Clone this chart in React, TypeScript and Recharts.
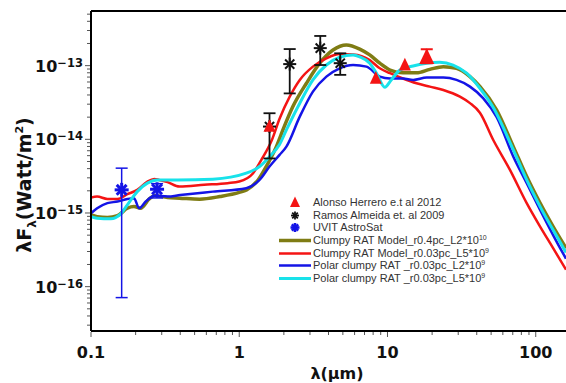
import { ComposedChart, Line, Scatter, XAxis, YAxis, ErrorBar, ReferenceLine } from "recharts";

// model SEDs: [lambda (um), lambda*F_lambda (W/m^2)]
const clumpyR04L2e10: [number, number][] = [
  [0.1, 9.4e-16], [0.11, 8.9e-16], [0.129, 8.7e-16], [0.151, 9.2e-16], [0.176, 1.16e-15],
  [0.195, 1.22e-15], [0.216, 1.16e-15], [0.247, 1.55e-15], [0.267, 1.72e-15], [0.328, 1.62e-15],
  [0.395, 1.59e-15], [0.54, 1.54e-15], [0.74, 1.67e-15], [1.0, 1.9e-15], [1.12, 2.06e-15],
  [1.34, 2.81e-15], [1.52, 4.27e-15], [1.78, 7.96e-15], [1.97, 1.34e-14], [2.3, 2.78e-14],
  [2.84, 5.77e-14], [3.49, 1.08e-13], [4.29, 1.63e-13], [5.28, 1.91e-13], [6.5, 1.68e-13],
  [7.59, 1.4e-13], [8.87, 1.08e-13], [10.4, 8.7e-14], [12.7, 8.0e-14], [15.7, 8.0e-14],
  [19.3, 8.9e-14], [23.8, 9.7e-14], [29.2, 9.2e-14], [36, 7.1e-14], [42.1, 5.19e-14],
  [54.5, 2.5e-14], [70.6, 7.96e-15], [86.9, 3.12e-15], [107, 1.36e-15], [131, 6.53e-16],
  [160, 3.33e-16],
];

const clumpyR003L5e9: [number, number][] = [
  [0.1, 1.62e-15], [0.11, 1.67e-15], [0.129, 1.55e-15], [0.151, 1.55e-15], [0.176, 1.8e-15],
  [0.205, 2.06e-15], [0.24, 2.67e-15], [0.267, 2.9e-15], [0.288, 2.81e-15], [0.328, 2.62e-15],
  [0.395, 2.28e-15], [0.58, 2.41e-15], [0.834, 2.54e-15], [1.0, 2.67e-15], [1.24, 3.47e-15],
  [1.41, 5.26e-15], [1.66, 9.8e-15], [1.87, 1.9e-14], [2.19, 3.79e-14], [2.56, 6.4e-14],
  [3.14, 9.7e-14], [3.87, 1.26e-13], [4.76, 1.44e-13], [5.86, 1.42e-13], [7.59, 1.19e-13],
  [8.87, 9.2e-14], [10.4, 7.9e-14], [12.7, 6.7e-14], [15.7, 5.77e-14], [19.3, 5.19e-14],
  [23.8, 4.68e-14], [30.8, 3.79e-14], [36, 3.1e-14], [42, 2.3e-14], [51.7, 9.8e-15],
  [67, 3.85e-15], [86.9, 1.36e-15], [107, 6.53e-16], [131, 3.33e-16], [160, 1.7e-16],
];

const polarR003L2e9: [number, number][] = [
  [0.1, 9.93e-16], [0.11, 1.16e-15], [0.129, 1.36e-15], [0.151, 1.43e-15], [0.176, 1.55e-15],
  [0.195, 1.59e-15], [0.211, 1.16e-15], [0.234, 1.43e-15], [0.267, 1.72e-15], [0.328, 1.67e-15],
  [0.4, 1.75e-15], [0.663, 1.95e-15], [1.115, 2.17e-15], [1.37, 2.81e-15], [1.6, 4.27e-15],
  [1.87, 6.14e-15], [2.08, 7.96e-15], [2.56, 2.03e-14], [3.14, 4.44e-14], [3.87, 7.1e-14],
  [4.76, 9.2e-14], [5.86, 1.02e-13], [7.21, 9.7e-14], [8.87, 7.1e-14], [10.4, 6.7e-14],
  [12.7, 6.7e-14], [14.9, 6.4e-14], [18.4, 6.9e-14], [23.8, 6.9e-14], [29.2, 6.4e-14],
  [36, 5.19e-14], [44.3, 3.6e-14], [54.5, 2.0e-14], [70.6, 5.82e-15], [86.9, 2.54e-15],
  [107, 1.1e-15], [146, 3.33e-16], [160, 2.4e-16],
];

const polarR003L5e9: [number, number][] = [
  [0.1, 8.93e-16], [0.11, 8.5e-16], [0.136, 8.32e-16], [0.158, 9.64e-16], [0.176, 1.29e-15],
  [0.205, 1.95e-15], [0.24, 2.54e-15], [0.281, 2.81e-15], [0.383, 2.81e-15], [0.663, 2.88e-15],
  [1.115, 3.47e-15], [1.37, 4.27e-15], [1.6, 5.82e-15], [1.87, 8.5e-15], [2.08, 1.34e-14],
  [2.56, 3.09e-14], [3.14, 6.4e-14], [3.87, 1.02e-13], [4.76, 1.3e-13], [5.86, 1.4e-13],
  [6.5, 1.32e-13], [7.59, 1.08e-13], [8.43, 7.9e-14], [9.59, 5.09e-14], [10.6, 6.4e-14],
  [12.1, 8.7e-14], [14.9, 9.9e-14], [18.4, 1.08e-13], [22.5, 1.11e-13], [27.7, 1.02e-13],
  [34.2, 7.9e-14], [42.1, 4.9e-14], [51.7, 2.7e-14], [70.6, 7.18e-15], [86.9, 2.81e-15],
  [107, 1.22e-15], [154, 3.33e-16], [160, 2.9e-16],
];

// photometry
const alonsoLam = [1.6, 8.34, 13.1, 18.4];
const alonsoFlux = [1.5e-14, 6.75e-14, 1.02e-13, 1.3e-13];
const alonsoLow = [null, null, null, 1.08e-13];
const alonsoHigh = [null, null, null, 1.67e-13];

const ramosLam = [1.6, 2.19, 3.52, 4.8];
const ramosFlux = [1.49e-14, 1.05e-13, 1.73e-13, 1.08e-13];
const ramosLow = [5.5e-15, 4.2e-14, 1.02e-13, 7.5e-14];
const ramosHigh = [2.26e-14, 1.68e-13, 2.53e-13, 1.47e-13];

const uvitLam = [0.161, 0.279];
const uvitFlux = [2.06e-15, 2.1e-15];
const uvitLow = [7.1e-17, 1.6e-15];
const uvitHigh = [4.06e-15, 2.5e-15];

const X_DOMAIN: [number, number] = [0.1, 160];
const Y_DOMAIN: [number, number] = [2.5e-17, 5.52e-13];

const models = [
  { name: "Clumpy RAT Model_r0.4pc_L2*10", exp: "10", data: clumpyR04L2e10, color: "#7f7c14", width: 3.5 },
  { name: "Clumpy RAT Model_r0.03pc_L5*10", exp: "9", data: clumpyR003L5e9, color: "#f41414", width: 2.5 },
  { name: "Polar clumpy RAT _r0.03pc_L2*10", exp: "9", data: polarR003L2e9, color: "#1414e6", width: 2.5 },
  { name: "Polar clumpy RAT _r0.03pc_L5*10", exp: "9", data: polarR003L5e9, color: "#18e2ea", width: 3 },
];

const pts = (s: [number, number][]) => s.map(([x, y]) => ({ x, y }));
const withErr = (lam: number[], flux: number[], lo: (number | null)[], hi: (number | null)[]) =>
  lam.map((x, i) => ({
    x,
    y: flux[i],
    err: lo[i] == null ? null : [flux[i] - (lo[i] as number), (hi[i] as number) - flux[i]],
  }));

const isMajor = (v: number) => Math.abs(Math.log10(v) - Math.round(Math.log10(v))) < 1e-9;

function logTicks([lo, hi]: [number, number]) {
  const out: number[] = [];
  for (let d = Math.floor(Math.log10(lo)); d <= Math.ceil(Math.log10(hi)); d++) {
    for (let m = 1; m <= 9; m++) {
      const v = m * Math.pow(10, d);
      if (v >= lo * 0.999 && v <= hi * 1.001) out.push(v);
    }
  }
  return out;
}

const BOLD = "'DejaVu Sans', sans-serif";

const XTick = (props: any) => {
  const { x, y, payload } = props;
  const major = isMajor(payload.value);
  return (
    <g>
      <line x1={x} x2={x} y1={y + 1} y2={y + (major ? 6 : 4)} stroke="#555" />
      {major && (
        <text x={x} y={y + 27} textAnchor="middle" fontFamily={BOLD} fontWeight="bold" fontSize={16} fill="#111">
          {String(payload.value)}
        </text>
      )}
    </g>
  );
};

const YTick = (props: any) => {
  const { x, y, payload } = props;
  const major = isMajor(payload.value);
  const p = Math.round(Math.log10(payload.value));
  return (
    <g>
      <line x1={x - 1} x2={x - (major ? 6 : 4)} y1={y} y2={y} stroke="#555" />
      {major && (
        <text x={x - 8} y={y + 6} textAnchor="end" fontFamily={BOLD} fontWeight="bold" fontSize={16} fill="#111">
          10<tspan dy={-5} fontSize={11.5}>{"\u2212" + Math.abs(p)}</tspan>
        </text>
      )}
    </g>
  );
};

function Asterisk({ cx, cy, r, color, w }: { cx: number; cy: number; r: number; color: string; w: number }) {
  return (
    <g stroke={color} strokeWidth={w} strokeLinecap="butt">
      {[0, 45, 90, 135].map((a) => {
        const dx = r * Math.cos((a * Math.PI) / 180);
        const dy = r * Math.sin((a * Math.PI) / 180);
        return <line key={a} x1={cx - dx} y1={cy - dy} x2={cx + dx} y2={cy + dy} />;
      })}
    </g>
  );
}

function Triangle({ cx, cy, s, color }: { cx: number; cy: number; s: number; color: string }) {
  return <path d={`M${cx},${cy - s * 0.6}L${cx + s / 2},${cy + s * 0.45}L${cx - s / 2},${cy + s * 0.45}Z`} fill={color} />;
}

const legendRows: { label: string; exp?: string; marker: JSX.Element }[] = [
  { label: "Alonso Herrero e.t al 2012", marker: <Triangle cx={16} cy={6.5} s={10} color="#f41414" /> },
  { label: "Ramos Almeida et. al 2009", marker: <Asterisk cx={16} cy={6.5} r={4} color="#111" w={1.8} /> },
  { label: "UVIT AstroSat", marker: <Asterisk cx={16} cy={6.5} r={4.5} color="#1414e6" w={2.6} /> },
  ...models.map((m) => ({
    label: m.name,
    exp: m.exp,
    marker: <line x1={0} x2={32} y1={6.5} y2={6.5} stroke={m.color} strokeWidth={m.width} />,
  })),
];

export default function App() {
  const alonso = withErr(alonsoLam, alonsoFlux, alonsoLow, alonsoHigh);
  const ramos = withErr(ramosLam, ramosFlux, ramosLow, ramosHigh);
  const uvit = withErr(uvitLam, uvitFlux, uvitLow, uvitHigh);

  return (
    <div style={{ position: "relative", width: 566, height: 383, background: "#fff", overflow: "hidden" }}>
      <style>{"body{margin:0}"}</style>
      <ComposedChart width={566} height={383} margin={{ top: 11, right: 0, bottom: 0, left: 0 }}>
        <XAxis
          dataKey="x"
          type="number"
          scale="log"
          domain={X_DOMAIN}
          allowDataOverflow
          ticks={logTicks(X_DOMAIN)}
          interval={0}
          tick={<XTick />}
          tickLine={false}
          tickSize={0}
          tickMargin={0}
          height={52}
          axisLine={{ stroke: "#000", strokeWidth: 2 }}
        />
        <YAxis
          dataKey="y"
          type="number"
          scale="log"
          domain={Y_DOMAIN}
          allowDataOverflow
          ticks={logTicks(Y_DOMAIN)}
          interval={0}
          tick={<YTick />}
          tickLine={false}
          tickSize={0}
          tickMargin={0}
          width={91}
          axisLine={{ stroke: "#000", strokeWidth: 2 }}
        />
        <ReferenceLine y={Y_DOMAIN[1]} stroke="#000" strokeWidth={2} ifOverflow="visible" />
        {models.map((m) => (
          <Line
            key={m.name}
            data={pts(m.data)}
            dataKey="y"
            type="monotone"
            stroke={m.color}
            strokeWidth={m.width}
            dot={false}
            isAnimationActive={false}
          />
        ))}
        <Scatter
          data={ramos}
          dataKey="y"
          isAnimationActive={false}
          shape={(p: any) => <Asterisk cx={p.cx} cy={p.cy} r={6.5} color="#111" w={2} />}
        >
          <ErrorBar dataKey="err" direction="y" width={6} stroke="#111" strokeWidth={1.8} isAnimationActive={false} />
        </Scatter>
        <Scatter
          data={alonso}
          dataKey="y"
          isAnimationActive={false}
          shape={(p: any) => <Triangle cx={p.cx} cy={p.cy} s={p.payload.err ? 15 : 12} color="#f41414" />}
        >
          <ErrorBar dataKey="err" direction="y" width={6} stroke="#f41414" strokeWidth={2} isAnimationActive={false} />
        </Scatter>
        <Scatter
          data={uvit}
          dataKey="y"
          isAnimationActive={false}
          shape={(p: any) => <Asterisk cx={p.cx} cy={p.cy} r={7} color="#1414e6" w={3} />}
        >
          <ErrorBar dataKey="err" direction="y" width={6} stroke="#1414e6" strokeWidth={1.5} isAnimationActive={false} />
        </Scatter>
      </ComposedChart>

      <svg width={566} height={383} style={{ position: "absolute", left: 0, top: 0, pointerEvents: "none" }}>
        <text transform="translate(31,185) rotate(-90)" textAnchor="middle" fontFamily={BOLD} fontWeight="bold" fontSize={19} fill="#111">
          λF<tspan fontSize={12} dy={5}>λ</tspan>
          <tspan dy={-5}>(Watt/m</tspan>
          <tspan fontSize={11} dy={-8}>2</tspan>
          <tspan dy={8}>)</tspan>
        </text>
        <text x={337} y={379} textAnchor="middle" fontFamily={BOLD} fontWeight="bold" fontSize={16} fill="#111">
          λ(μm)
        </text>
      </svg>

      <div
        style={{
          position: "absolute",
          left: 279,
          top: 196,
          fontFamily: "'Liberation Sans', sans-serif",
          fontSize: 11,
          color: "#333",
          lineHeight: "12.7px",
        }}
      >
        {legendRows.map((r) => (
          <div key={r.label} style={{ display: "flex", alignItems: "center", height: 12.7, whiteSpace: "nowrap" }}>
            <svg width={34} height={13} style={{ flex: "none" }}>
              {r.marker}
            </svg>
            <span>
              {r.label}
              {r.exp && <sup style={{ fontSize: 7, verticalAlign: "top", lineHeight: "8px" }}>{r.exp}</sup>}
            </span>
          </div>
        ))}
      </div>
    </div>
  );
}
